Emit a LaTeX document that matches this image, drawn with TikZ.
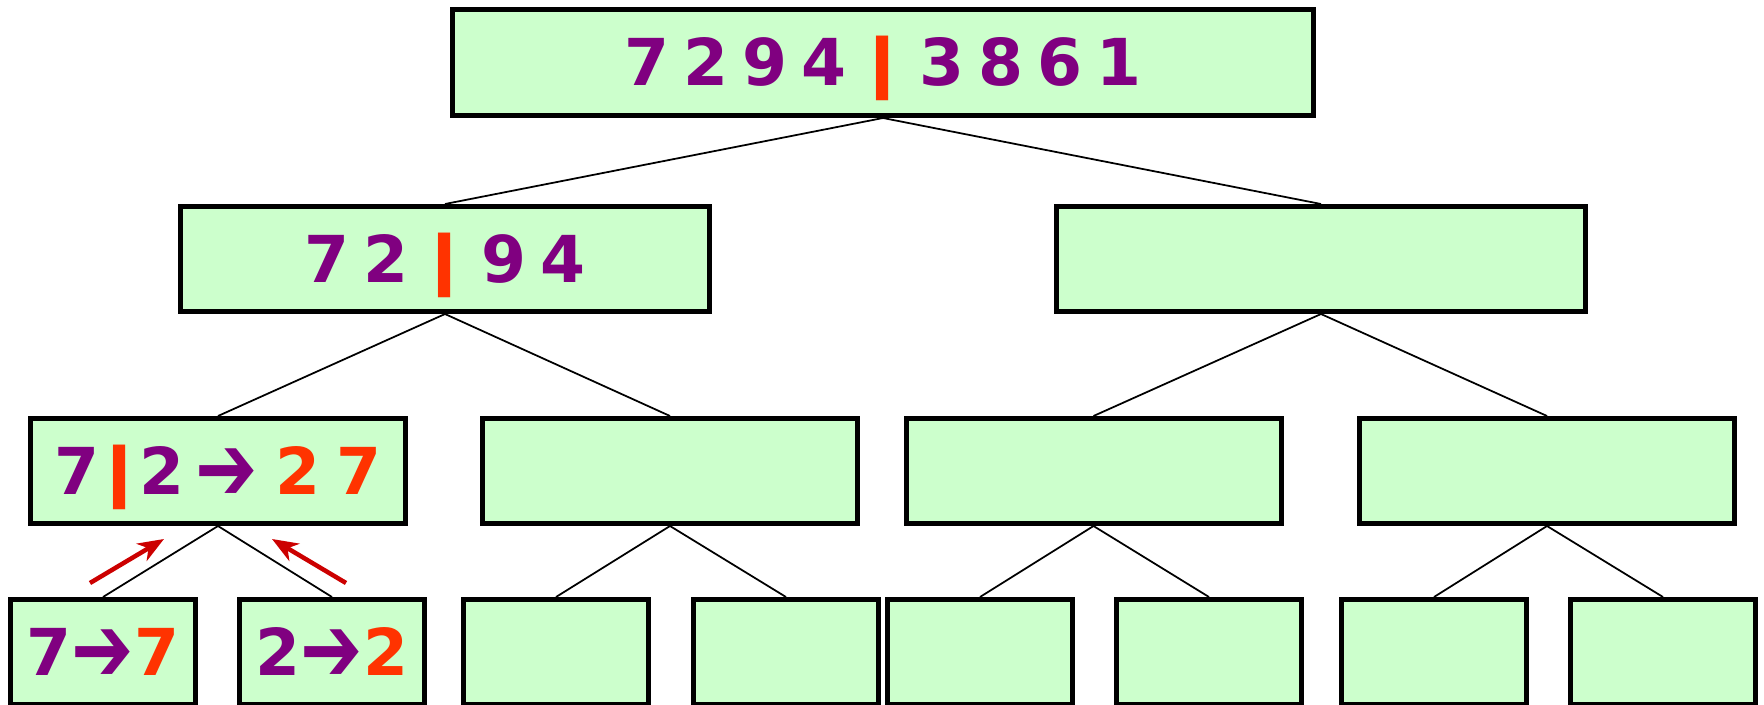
\documentclass[tikz,border=0pt]{standalone}
\usepackage{fontspec}
\setmainfont{DejaVu Sans}
\usepackage{graphicx}
\usepackage{tikz}
\usetikzlibrary{arrows.meta}

\definecolor{boxgreen}{HTML}{CCFFCC}
\definecolor{digitpurple}{HTML}{800080}
\definecolor{splitred}{HTML}{FF3300}
\definecolor{arrowred}{HTML}{CC0000}

\newcommand{\dcell}[1]{\makebox[0.59cm]{#1}}
\newcommand{\splitbar}{\textcolor{splitred}{\scalebox{1.7}[1]{|}}}
\newcommand{\sorted}[1]{\textcolor{splitred}{#1}}
\newcommand{\bigto}{\raisebox{-0.065cm}{\scalebox{1.15}[1.45]{➔}}}

\begin{document}
\begin{tikzpicture}[
  box/.style={draw, line width=0.05cm, fill=boxgreen, inner sep=0pt,
    text height=0.467cm, text depth=0pt, text=digitpurple,
    font=\fontsize{18.4}{22}\selectfont\bfseries},
  wide/.style={box, minimum width=8.61cm, minimum height=1.06cm},
  half/.style={box, minimum width=5.29cm, minimum height=1.05cm},
  quarter/.style={box, minimum width=3.75cm, minimum height=1.05cm},
  leaf/.style={box, minimum width=1.85cm, minimum height=1.05cm},
  edge/.style={line width=0.5pt},
  back/.style={arrowred, line width=0.045cm,
    -{Stealth[length=0.26cm, width=0.2cm, inset=0.08cm]}}
]
  \useasboundingbox (0,0) rectangle (17.64,-7.04);
  \clip (0,0) rectangle (17.64,-7.04);

  % whole list
  \node[wide] (t) at (8.83,-0.625)
    {\dcell7\dcell2\dcell9\dcell4\dcell\splitbar\dcell3\dcell8\dcell6\dcell1};

  % halves
  \node[half] (l) at (4.45,-2.59) {\dcell7\dcell2\dcell\splitbar\dcell9\dcell4};
  \node[half] (r) at (13.21,-2.59) {};

  % quarters
  \node[quarter] (ll) at (2.18,-4.71)
    {7\splitbar 2\kern0.11cm\bigto\kern0.17cm\sorted{2\kern0.16cm7}};
  \node[quarter] (lr) at (6.70,-4.71) {};
  \node[quarter] (rl) at (10.935,-4.71) {};
  \node[quarter] (rr) at (15.47,-4.71) {};

  % single elements
  \node[leaf] (lll) at (1.03,-6.52) {7\bigto\sorted{7}};
  \node[leaf] (llr) at (3.32,-6.52) {2\bigto\sorted{2}};
  \node[leaf] (lrl) at (5.56,-6.52) {};
  \node[leaf] (lrr) at (7.86,-6.52) {};
  \node[leaf] (rll) at (9.80,-6.52) {};
  \node[leaf] (rlr) at (12.09,-6.52) {};
  \node[leaf] (rrl) at (14.34,-6.52) {};
  \node[leaf] (rrr) at (16.63,-6.52) {};

  % tree edges
  \draw[edge] (t.south) -- (l.north);
  \draw[edge] (t.south) -- (r.north);
  \draw[edge] (l.south) -- (ll.north);
  \draw[edge] (l.south) -- (lr.north);
  \draw[edge] (r.south) -- (rl.north);
  \draw[edge] (r.south) -- (rr.north);
  \draw[edge] (ll.south) -- (lll.north);
  \draw[edge] (ll.south) -- (llr.north);
  \draw[edge] (lr.south) -- (lrl.north);
  \draw[edge] (lr.south) -- (lrr.north);
  \draw[edge] (rl.south) -- (rll.north);
  \draw[edge] (rl.south) -- (rlr.north);
  \draw[edge] (rr.south) -- (rrl.north);
  \draw[edge] (rr.south) -- (rrr.north);

  % merge back up
  \coordinate (up1) at (0.90,-5.83);
  \coordinate (up1e) at (1.64,-5.39);
  \coordinate (up2) at (3.46,-5.83);
  \coordinate (up2e) at (2.72,-5.39);
  \draw[back] (up1) -- (up1e);
  \draw[back] (up2) -- (up2e);
\end{tikzpicture}
\end{document}
